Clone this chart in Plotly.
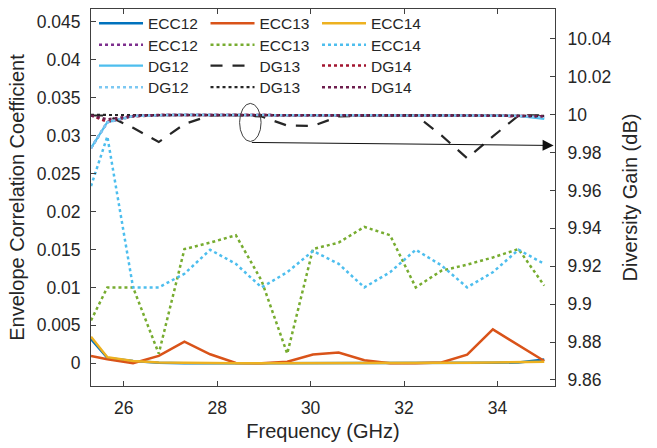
import plotly.graph_objects as go

# ---------------- data ----------------
freq = [25.3, 25.65, 26.2, 26.75, 27.3, 27.85, 28.4, 28.95, 29.5, 30.05,
        30.6, 31.15, 31.7, 32.25, 32.8, 33.35, 33.9, 34.45, 35.0]

ecc12 = [0.0032, 0.0007, 0.0003, 0.00005, 0.0, 0.0, 0.0, 0.0, 0.0, 0.0,
         0.0, 0.0, 0.0, 0.0, 0.0, 0.0, 0.00005, 0.0001, 0.0005]
ecc13 = [0.00096, 0.00052, 0.0, 0.00096, 0.00285, 0.00118, 0.00004, 0.0, 0.0002, 0.00114,
         0.0014, 0.0004, 0.0, 0.0, 0.0001, 0.00114, 0.00446, 0.00236, 0.0003]
ecc14 = [0.0035, 0.0008, 0.0003, 0.0001, 0.00005, 0.0, 0.0, 0.0, 0.0, 0.0,
         0.0, 0.0, 0.0, 0.0, 0.0, 0.00005, 0.0001, 0.0001, 0.0002]
ecc13_dot = [0.00564, 0.0100, 0.0100, 0.00127, 0.01505, 0.0159, 0.01688, 0.0109, 0.00127, 0.01505,
             0.0159, 0.01797, 0.01688, 0.0100, 0.0122, 0.0130, 0.01395, 0.01505, 0.01023]
ecc14_dot = [0.02335, 0.0299, 0.0100, 0.0100, 0.0118, 0.01496, 0.0131, 0.0100, 0.0120, 0.0148,
             0.0131, 0.0100, 0.0120, 0.01496, 0.0129, 0.0100, 0.0120, 0.01496, 0.0131]

ecc12_dot = [9.9823, 9.9960, 9.9992, 9.9997, 9.9998, 9.9998, 9.9998, 9.9998, 9.9998, 9.9998,
             9.9998, 9.9998, 9.9997, 9.9997, 9.9996, 9.9995, 9.9994, 9.9993, 9.9991]
dg12 = [9.9823, 9.9960, 9.9992, 9.9997, 9.9998, 9.9998, 9.9998, 9.9998, 9.9998, 9.9998,
        9.9998, 9.9998, 9.9998, 9.9997, 9.9996, 9.9995, 9.9994, 9.9993, 9.9977]
dg13 = [9.9995, 9.9995, 9.9930, 9.9855, 9.9950, 9.9995, 9.9998, 9.9990, 9.9942, 9.9940,
        9.9990, 9.9995, 9.9996, 9.9996, 9.9890, 9.9770, 9.9885, 9.9995, 9.9996]
dg14 = [9.9996, 9.9962, 9.9990, 9.9997, 9.9998, 9.9998, 9.9998, 9.9998, 9.9998, 9.9998,
        9.9998, 9.9998, 9.9998, 9.9997, 9.9996, 9.9995, 9.9994, 9.9993, 9.9991]
dg12_dot = [9.9823, 9.9960, 9.9992, 9.9997, 9.9998, 9.9998, 9.9998, 9.9998, 9.9998, 9.9998,
            9.9998, 9.9998, 9.9998, 9.9997, 9.9996, 9.9995, 9.9994, 9.9993, 9.9985]
dg13_dot = [9.9998, 9.9998, 9.9998, 9.9998, 9.9998, 9.9998, 9.9998, 9.9998, 9.9998, 9.9998,
            9.9998, 9.9998, 9.9998, 9.9998, 9.9997, 9.9996, 9.9995, 9.9994, 9.9993]
dg14_dot = [9.9995, 9.9975, 9.9993, 9.9998, 9.9998, 9.9998, 9.9998, 9.9998, 9.9998, 9.9998,
            9.9998, 9.9998, 9.9998, 9.9997, 9.9996, 9.9995, 9.9994, 9.9993, 9.9991]

x_ticks = [26, 28, 30, 32, 34]
y_ticks = [0, 0.005, 0.01, 0.015, 0.02, 0.025, 0.03, 0.035, 0.04, 0.045]
y_tick_text = ["0", "0.005", "0.01", "0.015", "0.02", "0.025", "0.03", "0.035", "0.04", "0.045"]
y2_ticks = [9.86, 9.88, 9.9, 9.92, 9.94, 9.96, 9.98, 10.0, 10.02, 10.04]
y2_tick_text = ["9.86", "9.88", "9.9", "9.92", "9.94", "9.96", "9.98", "10", "10.02", "10.04"]

FONT = "Liberation Sans, Arial, sans-serif"
TXT = "#262626"

fig = go.Figure()

def add(name, y, color, dash, width, axis, legend):
    fig.add_trace(go.Scatter(
        x=freq, y=y, name=name, mode="lines",
        line=dict(color=color, dash=dash, width=width),
        yaxis=axis, legend=legend, hoverinfo="skip"))

# legend row 1
add("ECC12", ecc12, "#0072BD", "solid", 2.5, "y", "legend")
add("ECC13", ecc13, "#D95319", "solid", 2.5, "y", "legend")
add("ECC14", ecc14, "#EDB120", "solid", 2.5, "y", "legend")
# legend row 2
add("ECC12", ecc12_dot, "#7E2F8E", "dot", 2.5, "y2", "legend2")
add("ECC13", ecc13_dot, "#77AC30", "dot", 2.5, "y", "legend2")
add("ECC14", ecc14_dot, "#4DBEEE", "dot", 2.5, "y", "legend2")
# legend row 3
add("DG12", dg12, "#4DBEEE", "solid", 2.2, "y2", "legend3")
add("DG13", dg13, "#262626", "12px,10px", 2.2, "y2", "legend3")
add("DG14", dg14, "#A2142F", "dot", 2.5, "y2", "legend3")
# legend row 4
add("DG12", dg12_dot, "#7CC8F2", "dot", 2.5, "y2", "legend4")
add("DG13", dg13_dot, "#262626", "dot", 2.2, "y2", "legend4")
add("DG14", dg14_dot, "#6E1E4E", "dot", 2.5, "y2", "legend4")

leg_common = dict(orientation="h", bgcolor="rgba(0,0,0,0)", borderwidth=0,
                  font=dict(family=FONT, size=15.5, color=TXT), itemwidth=44,
                  entrywidth=52.5, entrywidthmode="pixels",
                  yanchor="middle", xanchor="left", x=0.0065)
fig.update_layout(
    legend=dict(y=0.9612, **leg_common),
    legend2=dict(y=0.9042, **leg_common),
    legend3=dict(y=0.8488, **leg_common),
    legend4=dict(y=0.7916, **leg_common),
)

axis_line = "#404040"
fig.update_layout(
    width=657, height=448,
    margin=dict(l=91, r=102, t=7, b=62),
    paper_bgcolor="white", plot_bgcolor="white",
    font=dict(family=FONT, color=TXT),
    xaxis=dict(range=[25.3, 35.23], tickvals=x_ticks, ticks="inside", ticklen=5,
               showline=True, linecolor=axis_line, linewidth=1, mirror="ticks",
               tickcolor=axis_line, showgrid=False, zeroline=False, automargin=False,
               ticklabelstandoff=6,
               tickfont=dict(size=17.5, family=FONT, color=TXT),
               title=dict(text="Frequency (GHz)", font=dict(size=20, family=FONT, color=TXT), standoff=6)),
    yaxis=dict(range=[-0.003, 0.0467], tickvals=y_ticks, ticktext=y_tick_text,
               ticks="inside", ticklen=5, showline=True, linecolor=axis_line, linewidth=1,
               tickcolor=axis_line, showgrid=False, zeroline=False, automargin=False,
               ticklabelstandoff=6,
               tickfont=dict(size=17.5, family=FONT, color=TXT),
               title=dict(text="Envelope Correlation Coefficient", font=dict(size=20, family=FONT, color=TXT), standoff=6)),
    yaxis2=dict(range=[9.8568, 10.0557], tickvals=y2_ticks, ticktext=y2_tick_text,
                overlaying="y", side="right", anchor="x",
                ticks="inside", ticklen=5, showline=True, linecolor=axis_line, linewidth=1,
                tickcolor=axis_line, showgrid=False, zeroline=False, automargin=False,
                ticklabelstandoff=8,
                tickfont=dict(size=17.5, family=FONT, color=TXT),
                title=dict(text="Diversity Gain (dB)", font=dict(size=20, family=FONT, color=TXT), standoff=12)),
)

# ellipse highlighting the DG curves and arrow pointing to the right axis
fig.add_shape(type="circle", xref="x", yref="y2", x0=28.48, x1=28.94, y0=9.9858, y1=10.0059,
              line=dict(color="#404040", width=1))
fig.add_annotation(x=35.2, y=9.9837, xref="x", yref="y2", ax=28.71, ay=9.9853,
                   axref="x", ayref="y2", showarrow=True, arrowhead=2, arrowsize=2.2,
                   arrowwidth=1, arrowcolor="#111111", text="")

fig.write_html("out.html")
